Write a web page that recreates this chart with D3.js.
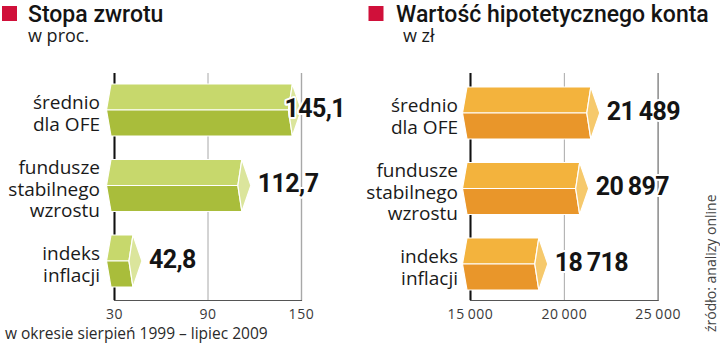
<!DOCTYPE html>
<html lang="pl">
<head>
<meta charset="utf-8">
<script src="https://cdn.jsdelivr.net/npm/d3@7"></script>
<style>
  html, body { margin: 0; padding: 0; background: #fff; }
  svg { display: block; }
  .title { font-family: Roboto, "Noto Sans", sans-serif; font-weight: 500; font-size: 23px; fill: #141414; }
  .sub { font-family: "Open Sans", sans-serif; font-size: 18px; fill: #1a1a1a; }
  .cat { font-family: "Open Sans", sans-serif; font-size: 19px; fill: #1a1a1a; }
  .val { font-family: Roboto, sans-serif; font-weight: 700; font-size: 25px; fill: #141414; letter-spacing: -0.6px;
         paint-order: stroke; stroke: #fff; stroke-width: 4px; stroke-linejoin: round; }
  .tick text { font-family: "Open Sans", sans-serif; font-size: 14px; fill: #3a3a3a; letter-spacing: 0.6px; }
  .note { font-family: "Open Sans", sans-serif; font-size: 15.5px; fill: #2a2a2a; }
  .src { font-family: "Open Sans", sans-serif; font-size: 14px; fill: #444; }
</style>
</head>
<body>
<svg id="chart" width="720" height="345"></svg>
<script>
// Categories (multi-line labels)
const categories = ["średnio dla OFE", "fundusze stabilnego wzrostu", "indeks inflacji"];
const categoryLines = [["średnio", "dla OFE"], ["fundusze", "stabilnego", "wzrostu"], ["indeks", "inflacji"]];

// Series: rate of return (%) and hypothetical account value (zł)
const returnValues = [145.1, 112.7, 42.8];
const accountValues = [21489, 20897, 18718];

// Axis ticks
const returnTicks = [30, 90, 150];
const accountTicks = [15000, 20000, 25000];

const pl = d3.formatLocale({ decimal: ",", thousands: "\u2009", grouping: [3], currency: ["", " zł"] });
const fmtReturn = pl.format(".1f");
const fmtAccount = pl.format(",d");

const svg = d3.select("#chart");

const palettes = {
  green: { top: "#c7d86c", bottom: "#a9bd3b", end: "#dbe59c" },
  orange: { top: "#f3b33d", bottom: "#e9962a", end: "#f6c96c" }
};

const gridTop = 73, gridBottom = 300, barH = 52;

function panel(opts) {
  const g = svg.append("g");
  const x = d3.scaleLinear().domain(opts.domain).range(opts.xRange);
  const y = d3.scalePoint().domain(categories).range(opts.yRange);
  const x0 = x(opts.domain[0]);

  // title block
  g.append("rect").attr("x", opts.squareX).attr("y", 6).attr("width", 15).attr("height", 15).attr("fill", "#d0103a");
  g.append("text").attr("class", "title").attr("x", opts.titleX).attr("y", 21.7).text(opts.title);
  g.append("text").attr("class", "sub").attr("x", opts.subX).attr("y", 41.5).text(opts.sub);

  // gridlines + bottom axis
  const axis = d3.axisBottom(x).tickValues(opts.ticks).tickSize(-(gridBottom - gridTop))
    .tickPadding(6).tickFormat(opts.tickFormat);
  const ax = g.append("g").attr("transform", `translate(0,${gridBottom})`).call(axis);
  ax.select(".domain").attr("stroke", "#555").attr("stroke-width", 1.2);
  ax.selectAll(".tick line").attr("stroke", "#a8a8a8").attr("stroke-width", 1);
  ax.selectAll(".tick text").attr("dy", "0.95em");
  ax.selectAll(".tick").filter((d, i) => i === 0).select("line").attr("stroke", "#111").attr("stroke-width", 2);

  // prism bars
  const bars = g.append("g").selectAll("g").data(categories).join("g");
  bars.each(function (c, i) {
    const v = opts.values[i];
    const cy = y(c), top = cy - barH / 2, bot = cy + barH / 2;
    const bodyL = x0 - 3, tipL = x0 - 7.5;
    const xE = x(v) - 1, inner = xE - 4, tipR = xE + 9;
    const sel = d3.select(this);
    const poly = (pts, fill) => sel.append("polygon")
      .attr("points", pts.map(p => p.join(",")).join(" "))
      .attr("fill", fill).attr("stroke", "#fff").attr("stroke-width", 1.2).attr("stroke-linejoin", "round");
    poly([[bodyL, top], [xE, top], [inner, cy], [tipL, cy]], opts.pal.top);
    poly([[tipL, cy], [inner, cy], [xE, bot], [bodyL, bot]], opts.pal.bottom);
    poly([[xE, top], [tipR, cy], [xE, bot], [inner, cy]], opts.pal.end);

    // category label
    const lines = categoryLines[i];
    const t = g.append("text").attr("class", "cat").attr("text-anchor", "end");
    lines.forEach((ln, k) => {
      t.append("tspan").attr("x", opts.labelX)
        .attr("y", cy + 10 + (k - (lines.length - 1) / 2) * 21.6).text(ln);
    });

    // value label, kept inside the panel
    const vt = g.append("text").attr("class", "val").attr("y", cy + 6.5).text(opts.fmt(v));
    const w = vt.node().getComputedTextLength();
    vt.attr("x", Math.min(tipR + 7, opts.labelLimit - w));
  });
  return g;
}

panel({
  domain: [30, 150], xRange: [114, 301], yRange: [110, 261],
  ticks: returnTicks, tickFormat: d => d, values: returnValues, fmt: fmtReturn,
  pal: palettes.green, labelX: 100, labelLimit: 345,
  squareX: 2, titleX: 28, subX: 28, title: "Stopa zwrotu", sub: "w proc."
});

panel({
  domain: [15000, 25000], xRange: [470, 657.7], yRange: [113, 264],
  ticks: accountTicks, tickFormat: fmtAccount, values: accountValues, fmt: fmtAccount,
  pal: palettes.orange, labelX: 458, labelLimit: 700,
  squareX: 368.5, titleX: 396, subX: 403, title: "Wartość hipotetycznego konta", sub: "w zł"
});

svg.append("text").attr("class", "note").attr("x", 5).attr("y", 338.5)
  .text("w okresie sierpień 1999 – lipiec 2009");

svg.append("text").attr("class", "src")
  .attr("transform", "translate(716,332) rotate(-90)")
  .text("źródło: analizy online");
</script>
</body>
</html>
